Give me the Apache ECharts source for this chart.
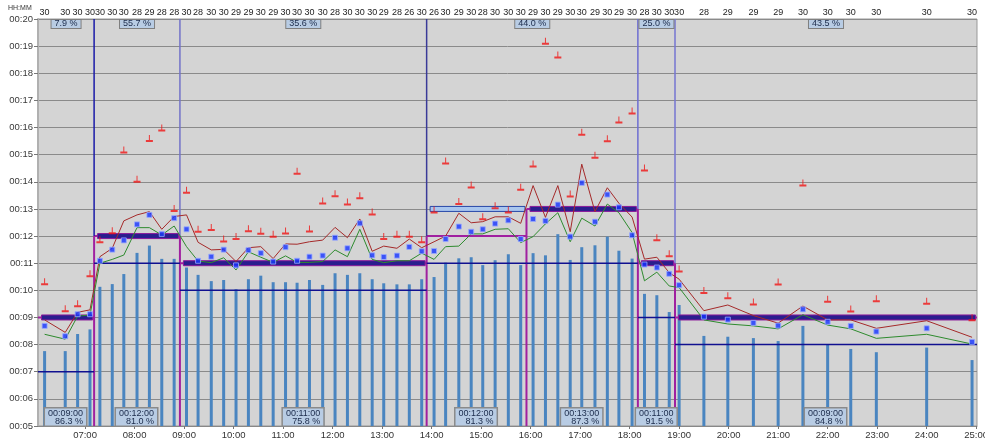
<!DOCTYPE html>
<html><head><meta charset="utf-8">
<script src="https://cdn.jsdelivr.net/npm/echarts@6/dist/echarts.min.js"></script>
<style>html,body{margin:0;padding:0;background:#fff}#c{width:985px;height:441px}</style>
</head><body><div id="c"></div>
<script>
// ---------- data ----------
const barTimes = ['06:11','06:36','06:51','07:06','07:18','07:33','07:47','08:03','08:18','08:33','08:48',
  '09:03','09:17','09:33','09:48','10:03','10:18','10:33','10:48','11:03','11:17','11:32','11:48',
  '12:03','12:18','12:33','12:48','13:02','13:18','13:33','13:48','14:03','14:17','14:33','14:48',
  '15:02','15:17','15:33','15:48','16:03','16:18','16:33','16:48','17:02','17:18','17:33','17:47',
  '18:03','18:18','18:33','18:48','19:00','19:30','19:59','20:30','21:00','21:30','22:00','22:28',
  '22:59','24:00','24:55'];
const barCounts = [30,30,30,30,30,30,30,28,29,28,28,30,28,30,30,29,29,30,29,30,30,30,30,
  28,30,30,30,29,28,26,30,26,30,29,30,28,30,30,30,29,30,29,30,30,29,30,29,30,28,
  30,30,30,28,29,29,29,30,30,30,30,30,30];
const barValues = [7.76,7.76,8.39,8.56,10.13,10.23,10.60,11.38,11.65,11.16,11.16,10.84,10.57,10.34,10.38,
  10.04,10.41,10.54,10.30,10.30,10.28,10.38,10.20,10.63,10.57,10.63,10.41,10.26,10.22,10.22,10.41,
  10.49,11.02,11.18,11.22,10.93,11.11,11.33,10.93,11.37,11.29,12.07,11.12,11.59,11.66,11.98,11.46,
  11.17,9.87,9.82,9.20,9.46,8.32,8.29,8.24,8.13,8.69,7.99,7.84,7.72,7.89,7.43];
const starValues = [8.69,8.31,9.12,9.12,11.09,11.50,11.84,12.43,12.78,12.08,12.66,12.25,11.09,11.24,11.50,
  10.92,11.48,11.37,11.06,11.59,11.09,11.24,11.28,11.94,11.55,12.47,11.29,11.23,11.28,11.60,11.44,
  11.45,11.89,12.35,12.16,12.25,12.46,12.58,11.89,12.63,12.56,13.16,11.98,13.96,12.53,13.53,13.06,
  12.03,10.95,10.84,10.61,10.19,9.03,8.92,8.80,8.70,9.30,8.84,8.69,8.48,8.60,8.10];
const redValues = [10.32,9.32,9.51,10.61,11.86,12.20,15.17,14.09,15.60,15.98,13.02,13.69,12.25,12.32,11.89,
  11.98,12.27,12.18,12.07,12.19,14.39,12.26,13.29,13.56,13.26,13.49,12.89,11.98,12.07,12.07,11.86,
  12.96,14.77,13.27,13.88,12.71,13.12,12.96,13.80,14.66,19.18,18.67,13.55,15.83,14.98,15.59,16.28,
  16.61,14.51,11.94,11.35,10.79,9.99,9.80,9.57,10.31,13.96,9.67,9.31,9.69,9.60,8.99];
const brownValues = [8.91,8.45,9.19,9.28,11.24,11.55,12.56,12.78,12.90,12.25,12.72,12.78,11.77,11.49,11.51,
  11.06,11.57,11.61,11.17,11.71,11.70,11.79,11.85,12.32,11.94,12.63,11.44,11.63,11.55,11.89,11.57,
  11.79,12.00,12.84,12.49,12.53,12.71,12.71,12.47,13.86,12.69,13.86,12.16,14.65,12.90,13.78,13.21,
  12.70,11.15,11.22,10.65,10.41,9.25,9.46,9.07,8.79,9.42,8.91,8.91,8.60,8.88,8.27];
const greenValues = [8.38,8.20,9.05,9.09,11.00,11.14,11.30,12.31,12.31,12.04,12.37,11.61,11.08,11.02,11.20,
  10.75,11.42,11.22,11.03,11.27,11.03,11.03,11.06,11.49,11.24,12.25,11.14,11.02,11.09,11.09,11.37,
  11.14,11.61,11.63,12.08,12.08,12.25,12.27,11.76,11.98,12.45,12.86,11.79,12.66,12.37,13.18,12.86,
  12.13,10.35,10.67,10.16,10.10,8.91,8.76,8.69,8.58,9.10,8.72,8.58,8.23,8.38,8.02];

const periodBounds = ['06:03','07:11','08:55','13:54','15:55','18:10','18:55','25:01'];
const stepLevels   = [9,12,11,12,13,11,9];
const targetLevels = [9,12,11,13,13,11,9];
const lowerLevels  = [7,11,10,11,11,9,8];
const periodTimes  = ['00:09:00','00:12:00','00:11:00','00:12:00','00:13:00','00:11:00','00:09:00'];
const periodPct    = ['86.3 %','81.0 %','75.8 %','81.3 %','87.3 %','91.5 %','84.8 %'];
const blockBounds  = ['06:03','07:11','08:55','13:54','18:10','18:55','25:01'];
const blockPct     = ['7.9 %','55.7 %','35.6 %','44.0 %','25.0 %','43.5 %'];
const xTickLabels  = ['07:00','08:00','09:00','10:00','11:00','12:00','13:00','14:00','15:00','16:00',
  '17:00','18:00','19:00','20:00','21:00','22:00','23:00','24:00','25:00'];
const yMin = 5, yMax = 20;

// ---------- helpers ----------
const toH = s => { const p = s.split(':').map(Number); return p[0] + p[1] / 60; };
const pad = n => String(n).padStart(2, '0');
const FONT = '"Liberation Sans", Arial, sans-serif';
const xMin = toH(periodBounds[0]), xMax = toH(periodBounds[periodBounds.length - 1]);
const hourTicks = xTickLabels.map(toH);
const ts = barTimes.map(toH);
const pts = arr => ts.map((t, i) => [t, arr[i]]);
const periods = stepLevels.map((lv, i) => [toH(periodBounds[i]), toH(periodBounds[i + 1]), lv, i]);
const blocks = blockPct.map((p, i) => [toH(blockBounds[i]), toH(blockBounds[i + 1]), yMax, i]);
const dividers = blockBounds.slice(1, -1).map((b, k) => {
  const j = periodBounds.indexOf(b);
  return [toH(b), Math.max(stepLevels[j - 1], stepLevels[j]), k];
});
const dividerColors = ['#1A1AA8', '#7272C8', '#3A3A98', '#6E6ED2', '#7676D2'];

const lineEl = (a, b, stroke, w) => ({ type: 'line', shape: { x1: a[0], y1: a[1], x2: b[0], y2: b[1] }, style: { stroke, lineWidth: w } });

const chart = echarts.init(document.getElementById('c'), null, { renderer: 'canvas' });
chart.setOption({
  animation: false,
  backgroundColor: '#fff',
  title: { text: 'HH:MM', left: 8, top: 5, padding: 0, textStyle: { fontSize: 7, fontWeight: 'normal', color: '#333', fontFamily: FONT } },
  grid: { left: 38, right: 8, top: 19, bottom: 15, show: true, backgroundColor: '#D4D4D4', borderColor: '#999', borderWidth: 1, containLabel: false, outerBoundsMode: 'none' },
  xAxis: {
    type: 'value', min: xMin, max: xMax,
    axisLine: { show: true, lineStyle: { color: '#888', width: 1 } },
    axisTick: { show: true, customValues: hourTicks, length: 3, lineStyle: { color: '#777' } },
    axisLabel: { customValues: hourTicks, formatter: v => pad(Math.round(v)) + ':00', fontSize: 9.5, color: '#333', fontFamily: FONT, margin: 4 },
    splitLine: { show: false }
  },
  yAxis: {
    type: 'value', min: yMin, max: yMax, interval: 1,
    axisLine: { show: true, lineStyle: { color: '#B0B0B0', width: 2 } },
    axisTick: { show: true, length: 4, lineStyle: { color: '#777' } },
    axisLabel: { formatter: v => '00:' + pad(v), fontSize: 9.5, color: '#3a3a3a', fontFamily: FONT, margin: 5 },
    splitLine: { show: true, lineStyle: { color: '#8a8a8a', width: 1 } }
  },
  series: [
    { type: 'bar', data: pts(barValues), barWidth: 3, itemStyle: { color: '#4A85C0' }, z: 2, silent: true },
    // magenta step outline
    { type: 'custom', z: 3, silent: true, encode: { x: [0, 1], y: 2 }, data: periods,
      renderItem: (params, api) => {
        const i = api.value(3), s = api.value(0), e = api.value(1), lv = api.value(2);
        const ch = [lineEl(api.coord([s, lv]), api.coord([e, lv]), '#A020A0', 2)];
        if (i < stepLevels.length - 1) {
          ch.push(lineEl(api.coord([e, Math.max(lv, stepLevels[i + 1])]), api.coord([e, yMin]), '#A020A0', 2));
        }
        return { type: 'group', children: ch };
      } },
    // thin navy lower level
    { type: 'custom', z: 4, silent: true, encode: { x: [0, 1], y: 2 },
      data: periods.map(p => [p[0], p[1], lowerLevels[p[3]], p[3]]),
      renderItem: (params, api) => lineEl(api.coord([api.value(0), api.value(2)]), api.coord([api.value(1), api.value(2)]), '#101090', 1.5) },
    // blue dividers
    { type: 'custom', z: 4, silent: true, encode: { x: 0, y: 1 }, data: dividers,
      renderItem: (params, api) => lineEl(api.coord([api.value(0), yMax]), api.coord([api.value(0), api.value(1)]), dividerColors[api.value(2)], 1.5) },
    // thick target bars
    { type: 'custom', z: 5, silent: true, encode: { x: [0, 1], y: 2 },
      data: periods.map(p => [p[0], p[1], targetLevels[p[3]], p[3]]),
      renderItem: (params, api) => {
        const i = api.value(3);
        const a = api.coord([api.value(0), api.value(2)]), b = api.coord([api.value(1), api.value(2)]);
        const light = i === 3;
        return { type: 'rect', shape: { x: a[0] + 3.5, y: a[1] - 2.5, width: b[0] - a[0] - 5, height: 5 },
          style: { fill: light ? '#A9C6EE' : '#2A1E8E', stroke: light ? '#2747A8' : '#8B1A9B', lineWidth: 1 } };
      } },
    { type: 'line', data: pts(brownValues), showSymbol: false, symbol: 'none', z: 6, silent: true, lineStyle: { color: '#A52A2A', width: 1 } },
    { type: 'line', data: pts(greenValues), showSymbol: false, symbol: 'none', z: 6, silent: true, lineStyle: { color: '#2E8B2E', width: 1 } },
    { type: 'scatter', data: pts(starValues), symbol: 'rect', symbolSize: 5, z: 7, silent: true,
      itemStyle: { color: '#1432FF', borderColor: '#9AAAFF', borderWidth: 1 } },
    { type: 'scatter', data: pts(redValues), symbol: 'path://M3,0L4,0L4,5L7,5L7,7L0,7L0,5L3,5Z', symbolSize: [7, 7], z: 7, silent: true,
      itemStyle: { color: '#F01414' } },
    // bottom period labels
    { type: 'custom', z: 8, silent: true, encode: { x: [0, 1], y: 2 }, data: periods,
      renderItem: (params, api) => {
        const i = api.value(3);
        const a = api.coord([api.value(0), yMin]), b = api.coord([api.value(1), yMin]);
        return { type: 'text', x: (a[0] + b[0]) / 2 + 20, y: a[1] - 0.5,
          style: { text: periodTimes[i] + '\n' + periodPct[i], align: 'right', verticalAlign: 'bottom',
            font: '9px ' + FONT, lineHeight: 8, fill: '#1A2A4A', backgroundColor: '#B8CCE4',
            borderColor: '#8A8A8A', borderWidth: 1.5, padding: [1, 3, 0, 3] } };
      } },
    // top block percents
    { type: 'custom', z: 8, silent: true, encode: { x: [0, 1], y: 2 }, data: blocks,
      renderItem: (params, api) => {
        const i = api.value(3);
        const a = api.coord([api.value(0), yMax]), b = api.coord([api.value(1), yMax]);
        return { type: 'text', x: (a[0] + b[0]) / 2, y: a[1] + 1,
          style: { text: blockPct[i], align: 'center', verticalAlign: 'top', font: '9px ' + FONT, lineHeight: 8,
            fill: '#1A2A4A', backgroundColor: '#B8CCE4', borderColor: '#7F7F7F', borderWidth: 1, padding: [0, 3, 0, 3] } };
      } },
    // count labels above plot
    { type: 'custom', z: 8, silent: true, clip: false, encode: { x: 0, y: 1 },
      data: ts.map((t, i) => [t, yMax, barCounts[i]]),
      renderItem: (params, api) => {
        const p = api.coord([api.value(0), api.value(1)]);
        return { type: 'text', x: p[0], y: p[1] - 6,
          style: { text: String(api.value(2)), align: 'center', verticalAlign: 'middle', font: '9px ' + FONT, fill: '#222' } };
      } }
  ]
});
</script></body></html>
